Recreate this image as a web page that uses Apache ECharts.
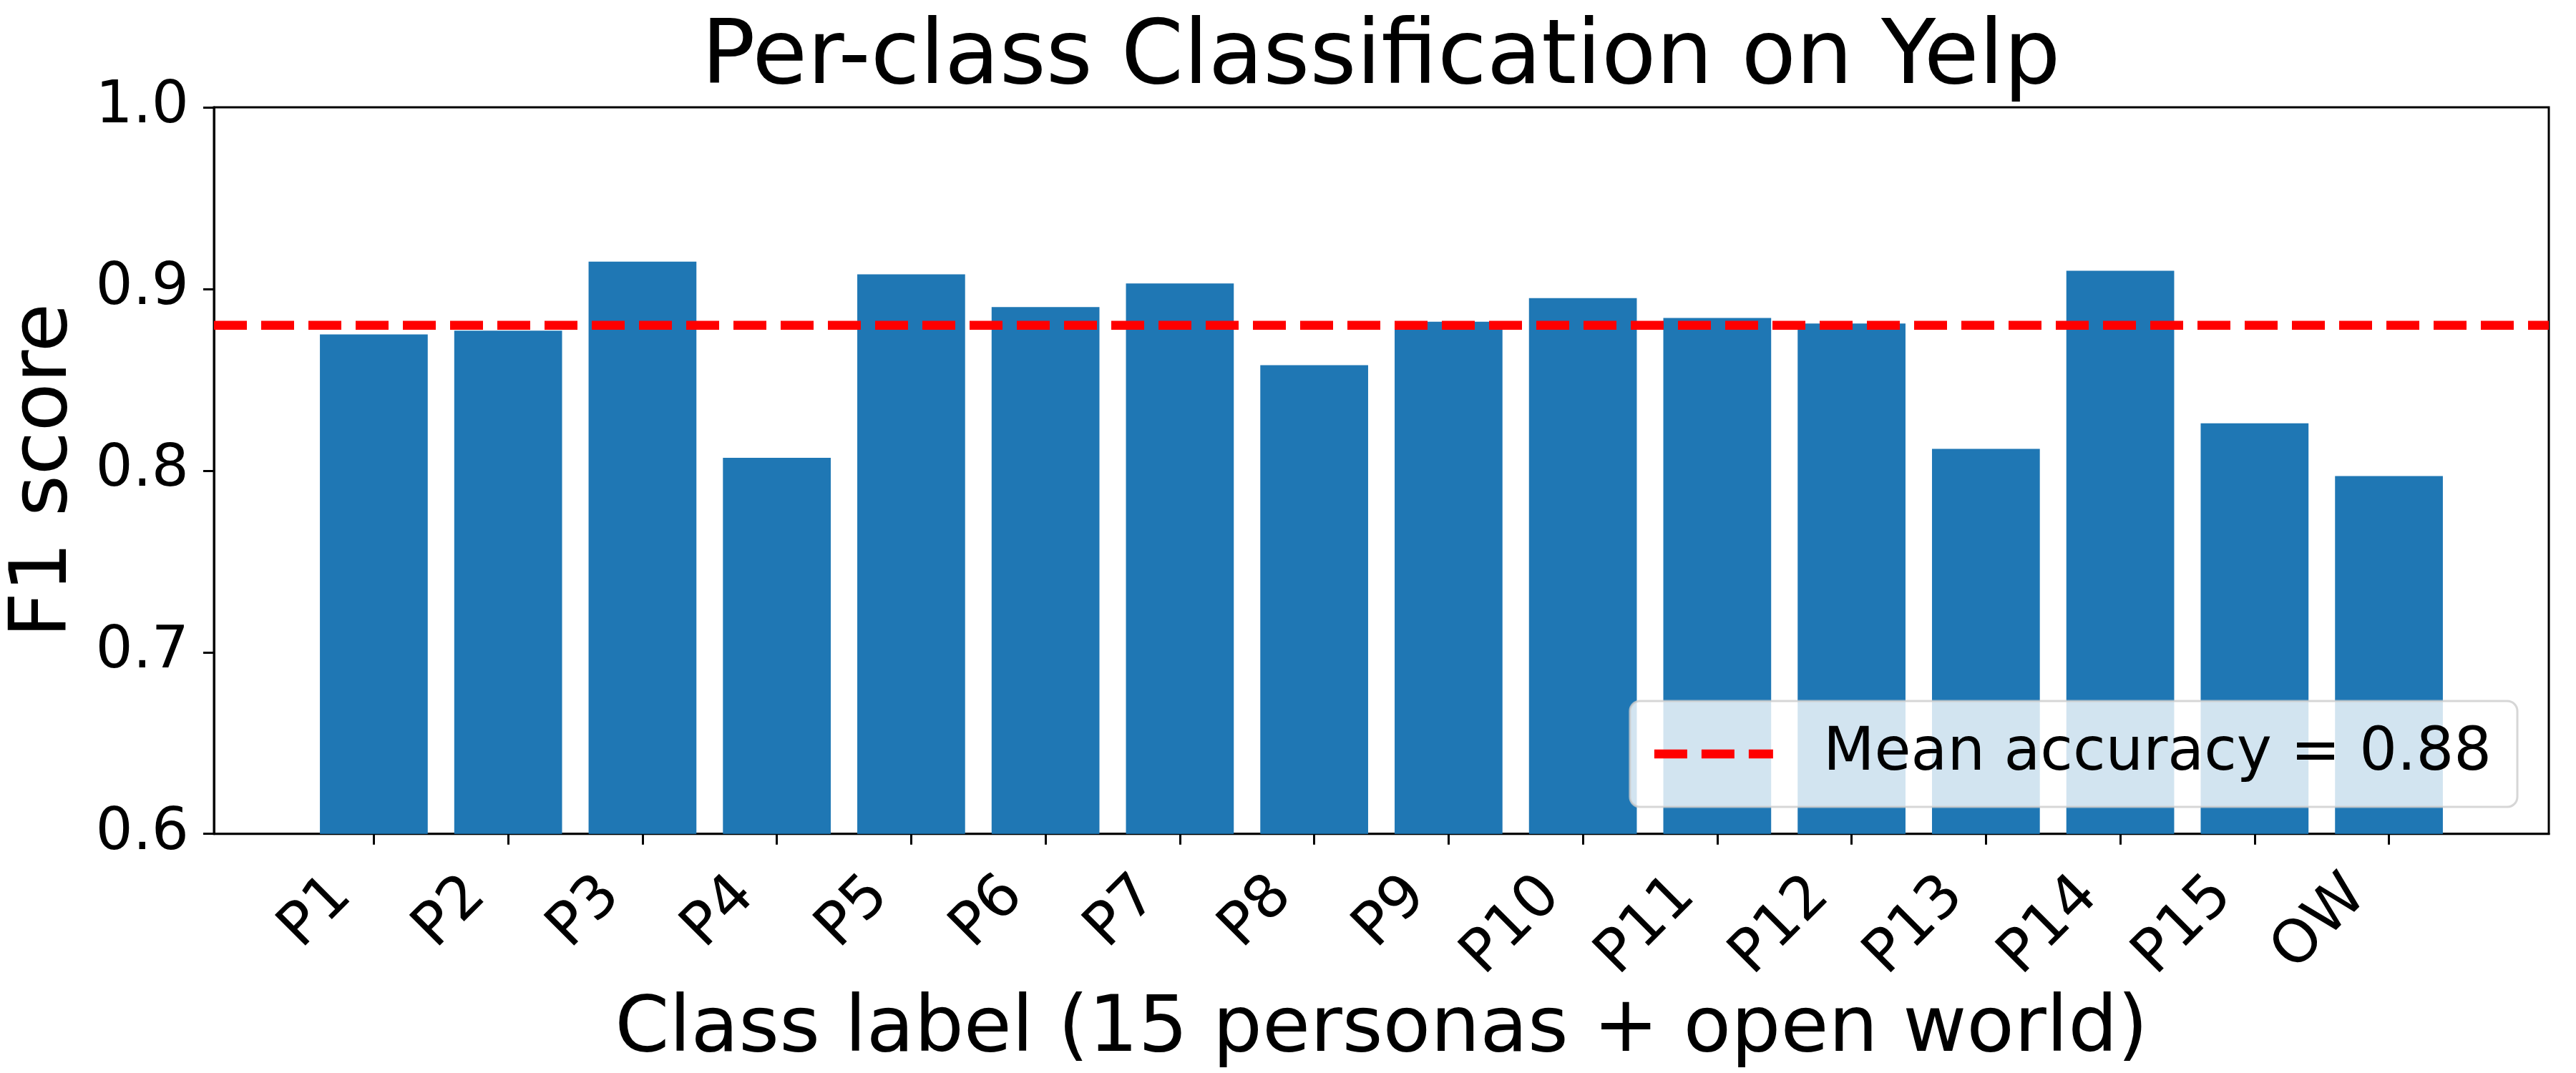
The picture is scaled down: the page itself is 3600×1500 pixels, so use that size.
<!DOCTYPE html>
<html>
<head>
<meta charset="utf-8">
<script src="https://cdn.jsdelivr.net/npm/echarts@6/dist/echarts.min.js"></script>
<style>
    html, body { margin: 0; padding: 0; background: #fff; }
    #chart { width: 3600px; height: 1500px; }
</style>
</head>
<body>
<div id="chart"></div>
<script>
// class labels and per-class F1
var classLabels = ['P1', 'P2', 'P3', 'P4', 'P5', 'P6', 'P7', 'P8', 'P9', 'P10', 'P11', 'P12', 'P13', 'P14', 'P15', 'OW'];
var f1Scores = [0.875, 0.877, 0.915, 0.807, 0.908, 0.890, 0.903, 0.858, 0.882, 0.895, 0.884, 0.881, 0.812, 0.910, 0.826, 0.797];
var meanAccuracy = 0.88;

// matplotlib style x limits (bar width 0.8 + 5% margin)
var xMin = -1.19;
var xMax = 16.19;

var gridLeft = 288, gridRight = 38, gridTop = 150, gridBottom = 330;
var fontFamily = '"DejaVu Sans", sans-serif';

function init() {
    var chartDom = document.getElementById('chart');
    var myChart = echarts.init(chartDom);

    var plotWidth = 3600 - gridLeft - gridRight;
    var plotCenter = gridLeft + plotWidth / 2;
    var barPx = 0.8 * plotWidth / (xMax - xMin);

    var barData = f1Scores.map(function (v, i) { return [i, v]; });
    var tickPositions = classLabels.map(function (c, i) { return i; });
    var meanName = 'Mean accuracy = ' + meanAccuracy.toFixed(2);

    // legend icon: three red dashes like matplotlib '--'
    var dashIcon = 'path://M0,0h46v12.5h-46z M66,0h46v12.5h-46z M132,0h34v12.5h-34z';

    var option = {
        backgroundColor: '#ffffff',
        animation: false,
        title: {
            text: 'Per-class Classification on Yelp',
            left: plotCenter,
            textAlign: 'center',
            top: 16,
            textStyle: { fontFamily: fontFamily, fontSize: 125, fontWeight: 'normal', color: '#000' }
        },
        grid: {
            left: gridLeft, right: gridRight, top: gridTop, bottom: gridBottom,
            show: true,
            borderColor: '#000',
            borderWidth: 3,
            backgroundColor: 'transparent'
        },
        legend: {
            right: 82,
            top: 980,
            data: [{ name: meanName, icon: dashIcon, itemStyle: { color: '#ff0000' } }],
            itemWidth: 166,
            itemHeight: 12.5,
            padding: [24, 36, 24, 34],
            backgroundColor: 'rgba(255,255,255,0.8)',
            borderColor: 'rgba(204,204,204,0.8)',
            borderWidth: 3,
            borderRadius: 14,
            textStyle: {
                fontFamily: fontFamily, fontSize: 83, color: '#000',
                lineHeight: 100,
                padding: [0, 0, 0, 65]
            }
        },
        xAxis: {
            type: 'value',
            min: xMin,
            max: xMax,
            name: 'Class label (15 personas + open world)',
            nameLocation: 'middle',
            nameGap: 195,
            nameTextStyle: { fontFamily: fontFamily, fontSize: 109, color: '#000' },
            splitLine: { show: false },
            axisLine: { show: true, onZero: false, lineStyle: { color: '#000', width: 3 } },
            axisTick: {
                show: true,
                customValues: tickPositions,
                length: 15,
                lineStyle: { color: '#000', width: 3 }
            },
            axisLabel: {
                customValues: tickPositions,
                rotate: 45,
                margin: 30,
                padding: [0, 62, 0, 0],
                fontFamily: fontFamily,
                fontSize: 83,
                color: '#000',
                formatter: function (v) { return classLabels[Math.round(v)]; }
            }
        },
        yAxis: {
            type: 'value',
            min: 0.6,
            max: 1.0,
            interval: 0.1,
            name: 'F1 score',
            nameLocation: 'middle',
            nameGap: 180,
            nameTextStyle: { fontFamily: fontFamily, fontSize: 111, color: '#000' },
            splitLine: { show: false },
            axisLine: { show: true, onZero: false, lineStyle: { color: '#000', width: 3 } },
            axisTick: { show: true, length: 15, lineStyle: { color: '#000', width: 3 } },
            axisLabel: {
                margin: 35,
                fontFamily: fontFamily,
                fontSize: 82,
                color: '#000',
                formatter: function (v) { return v.toFixed(1); }
            }
        },
        series: [
            {
                name: 'F1',
                type: 'bar',
                data: barData,
                barWidth: barPx,
                itemStyle: { color: '#1f77b4' },
                z: 2
            },
            {
                name: meanName,
                type: 'line',
                data: [[xMin, meanAccuracy], [xMax, meanAccuracy]],
                symbol: 'none',
                lineStyle: { color: '#ff0000', width: 12.5, type: [46, 20] },
                itemStyle: { color: '#ff0000' },
                z: 3
            }
        ]
    };

    myChart.setOption(option);
}

init();
</script>
</body>
</html>
